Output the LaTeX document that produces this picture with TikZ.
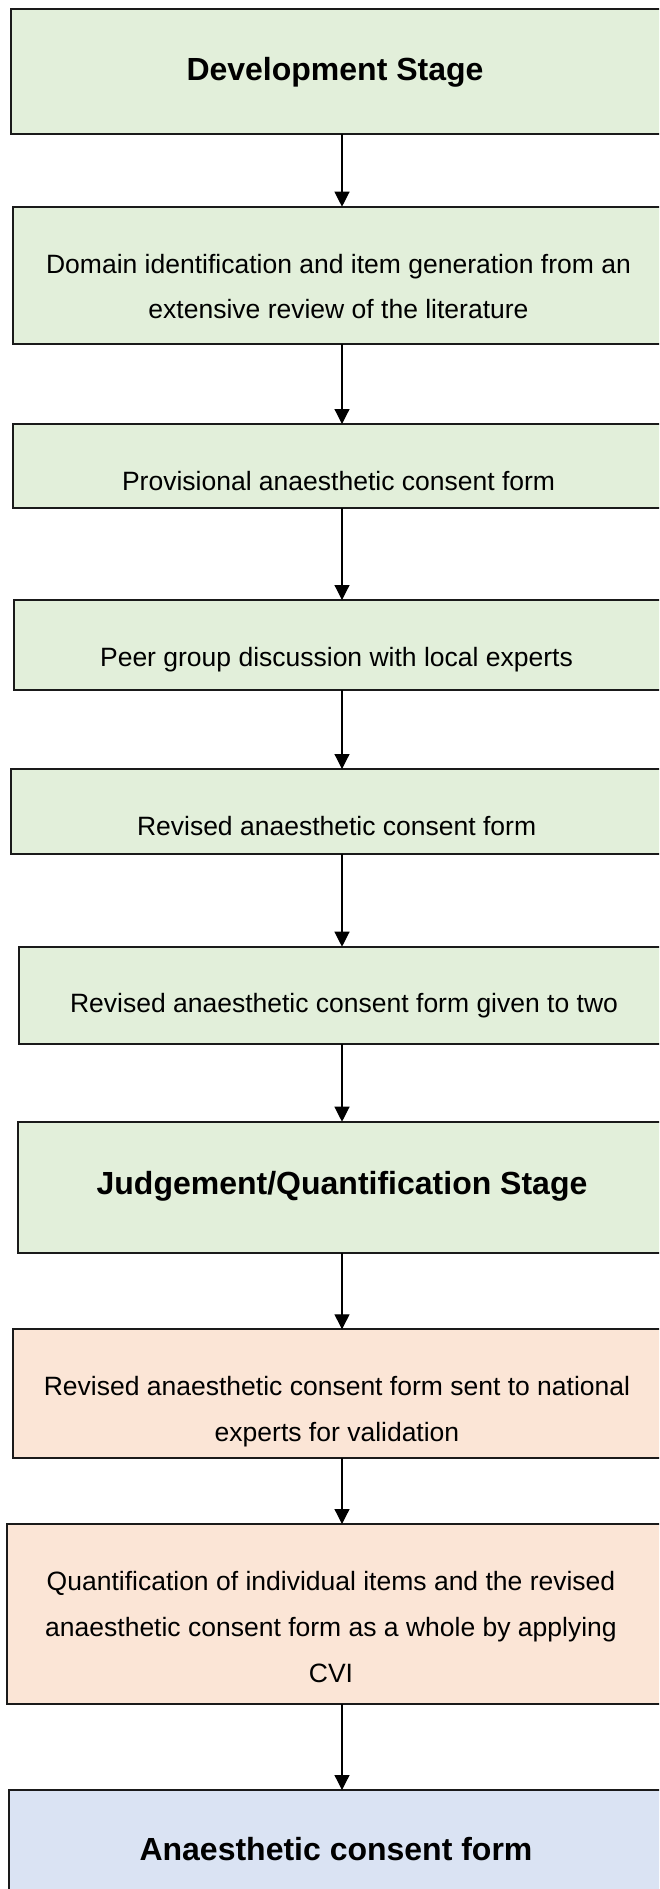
\documentclass[tikz,border=0pt]{standalone}
\usepackage{fontspec}
\setmainfont{Liberation Sans}
\usetikzlibrary{arrows.meta}
\definecolor{boxgreen}{HTML}{E2EFDA}
\definecolor{boxpeach}{HTML}{FBE5D6}
\definecolor{boxblue}{HTML}{DAE3F3}
\definecolor{edge}{HTML}{1A1A1A}
\tikzset{
  stagebox/.style={draw=edge, line width=2pt, rectangle, inner sep=0pt, outer sep=0pt},
  greenbox/.style={stagebox, fill=boxgreen},
  peachbox/.style={stagebox, fill=boxpeach},
  bluebox/.style={stagebox, fill=boxblue},
  normtxt/.style={anchor=base, inner sep=0pt, font=\fontsize{26.5}{46}\selectfont},
  boldtxt/.style={anchor=base, inner sep=0pt, font=\fontsize{32}{40}\selectfont\bfseries},
  arr/.style={draw=black, line width=1.2pt, -{Triangle[length=15pt,width=15pt]}}
}
\begin{document}
\begin{tikzpicture}[x=1pt,y=-1pt]
\useasboundingbox (0,0) rectangle (659,1889);
\clip (0,0) rectangle (659,1889);
\coordinate (ax) at (342,0);
% boxes
\node[greenbox, minimum width=659pt, minimum height=125pt] (b1) at (340.5,71.5) {};
\node[greenbox, minimum width=656.6pt, minimum height=137.3pt] (b2) at (341.7,275.35) {};
\node[greenbox, minimum width=657.3pt, minimum height=84.3pt] (b3) at (341.35,466.15) {};
\node[greenbox, minimum width=656pt, minimum height=90pt] (b4) at (342,645) {};
\node[greenbox, minimum width=658.7pt, minimum height=84.7pt] (b5) at (340.65,811.35) {};
\node[greenbox, minimum width=650.7pt, minimum height=97.6pt] (b6) at (344.65,995.5) {};
\node[greenbox, minimum width=652.4pt, minimum height=131.6pt] (b7) at (343.8,1187.5) {};
\node[peachbox, minimum width=657.4pt, minimum height=129pt] (b8) at (341.3,1393.8) {};
\node[peachbox, minimum width=663.3pt, minimum height=180pt] (b9) at (338.35,1614) {};
\node[bluebox, minimum width=660.8pt, minimum height=140pt] (b10) at (339.6,1860) {};
% texts
\node[boldtxt] (t1) at (335,81) {Development Stage};
\node[normtxt] (t2a) at (338.5,273) {Domain identification and item generation from an};
\node[normtxt] (t2b) at (338.5,318) {extensive review of the literature};
\node[normtxt] (t3) at (338.6,490.7) {Provisional anaesthetic consent form};
\node[normtxt] (t4) at (336.5,666.7) {Peer group discussion with local experts};
\node[normtxt] (t5) at (336.6,835) {Revised anaesthetic consent form};
\node[normtxt] (t6) at (344,1012.7) {Revised anaesthetic consent form given to two};
\node[boldtxt] (t7) at (342,1194.3) {Judgement/Quantification Stage};
\node[normtxt] (t8a) at (337,1395) {Revised anaesthetic consent form sent to national};
\node[normtxt] (t8b) at (337,1441.7) {experts for validation};
\node[normtxt] (t9a) at (331,1590.7) {Quantification of individual items and the revised};
\node[normtxt] (t9b) at (331,1636.7) {anaesthetic consent form as a whole by applying};
\node[normtxt] (t9c) at (331,1682.7) {CVI};
\node[boldtxt] (t10) at (336,1860.7) {Anaesthetic consent form};
% connectors
\draw[arr] (b1.south -| ax) -- (b2.north -| ax);
\draw[arr] (b2.south -| ax) -- (b3.north -| ax);
\draw[arr] (b3.south -| ax) -- (b4.north -| ax);
\draw[arr] (b4.south -| ax) -- (b5.north -| ax);
\draw[arr] (b5.south -| ax) -- (b6.north -| ax);
\draw[arr] (b6.south -| ax) -- (b7.north -| ax);
\draw[arr] (b7.south -| ax) -- (b8.north -| ax);
\draw[arr] (b8.south -| ax) -- (b9.north -| ax);
\draw[arr] (b9.south -| ax) -- (b10.north -| ax);
\end{tikzpicture}
\end{document}
